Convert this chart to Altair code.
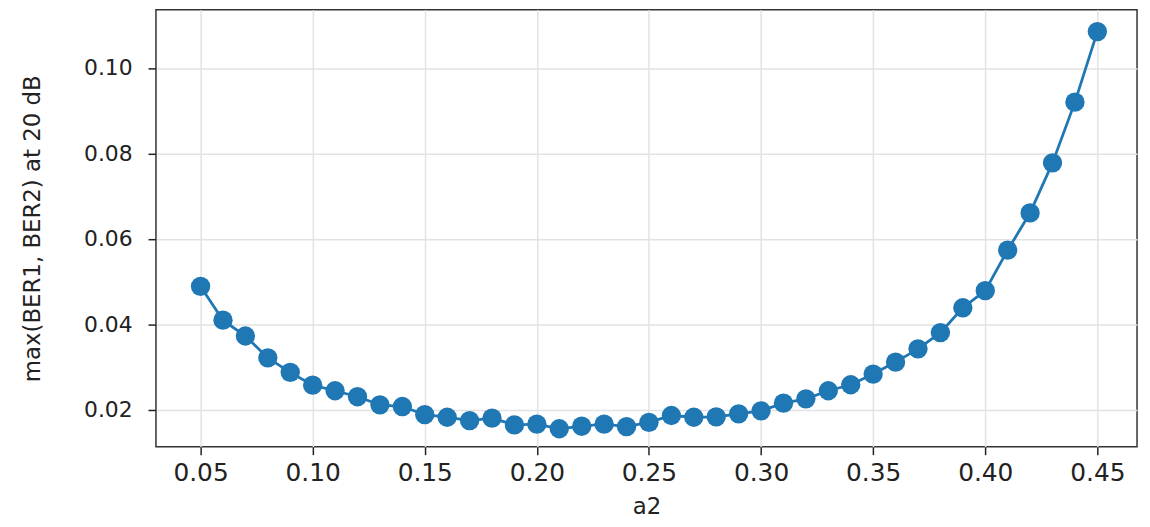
import altair as alt
import pandas as pd

a2 = [0.05, 0.06, 0.07, 0.08, 0.09, 0.10, 0.11, 0.12, 0.13, 0.14,
      0.15, 0.16, 0.17, 0.18, 0.19, 0.20, 0.21, 0.22, 0.23, 0.24,
      0.25, 0.26, 0.27, 0.28, 0.29, 0.30, 0.31, 0.32, 0.33, 0.34,
      0.35, 0.36, 0.37, 0.38, 0.39, 0.40, 0.41, 0.42, 0.43, 0.44, 0.45]
ber = [0.0489, 0.0410, 0.0373, 0.0322, 0.0288, 0.0258, 0.0245, 0.0231, 0.0212, 0.0208,
       0.0189, 0.0183, 0.0175, 0.0181, 0.0165, 0.0167, 0.0156, 0.0162, 0.0167, 0.0161,
       0.0171, 0.0187, 0.0183, 0.0184, 0.0191, 0.0198, 0.0216, 0.0226, 0.0245, 0.0259,
       0.0284, 0.0312, 0.0343, 0.0381, 0.0439, 0.0479, 0.0574, 0.0661, 0.0778, 0.0920, 0.1085]
x_ticks = [0.05, 0.10, 0.15, 0.20, 0.25, 0.30, 0.35, 0.40, 0.45]
y_ticks = [0.02, 0.04, 0.06, 0.08, 0.10]

df = pd.DataFrame({"a2": a2, "ber": ber})

blue = "#1f77b4"
font = "DejaVu Sans"

x_enc = alt.X(
    "a2:Q",
    scale=alt.Scale(domain=[0.0301, 0.4677], nice=False, zero=False),
    axis=alt.Axis(
        values=x_ticks, format=".2f", title="a2",
        labelFont=font, labelFontSize=25, labelColor="#222", labelPadding=6,
        tickSize=8, tickColor="#222", tickWidth=1.5,
        domain=False, grid=True, gridColor="#e3e3e3", gridWidth=1.5,
        titleFont=font, titleFontSize=23, titleFontWeight="normal", titleColor="#222",
        titleX=494, titleY=60, titleAlign="center", titleBaseline="middle",
    ),
)
y_enc = alt.Y(
    "ber:Q",
    scale=alt.Scale(domain=[0.0114, 0.1136], nice=False, zero=False),
    axis=alt.Axis(
        values=y_ticks, format=".2f", title="max(BER1, BER2) at 20 dB",
        labelFont=font, labelFontSize=22, labelColor="#222", labelPadding=16,
        tickSize=8, tickColor="#222", tickWidth=1.5,
        domain=False, grid=True, gridColor="#e3e3e3", gridWidth=1.5,
        titleFont=font, titleFontSize=23, titleFontWeight="normal", titleColor="#222",
        titleX=-124, titleY=220, titleAlign="center", titleBaseline="middle", titleAngle=270,
    ),
)

line = alt.Chart(df).mark_line(color=blue, strokeWidth=2.8).encode(x=x_enc, y=y_enc)
pts = alt.Chart(df).mark_circle(color=blue, size=380, opacity=1).encode(x=x_enc, y=y_enc)

chart = (line + pts).properties(
    width=988, height=440,
    background="white",
    autosize=alt.AutoSizeParams(type="none"),
    padding={"left": 149, "top": 0, "right": 5, "bottom": 78},
).configure_view(stroke="#333", strokeWidth=1.5)

chart.save("out.html", embed_options={"renderer": "svg", "actions": False})
